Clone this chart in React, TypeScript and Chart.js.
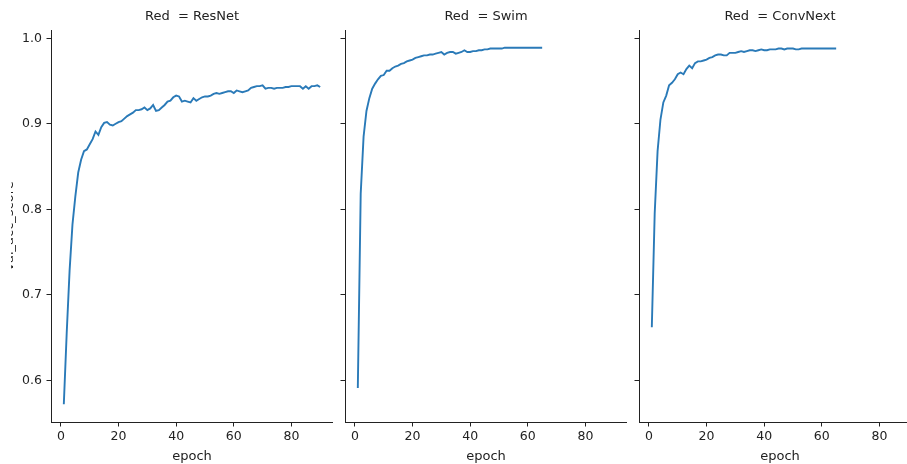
import React, { useEffect, useRef } from "react";
import { Chart, registerables } from "chart.js";

Chart.register(...registerables);

// ---------- data ----------
const panelTitles = ["Red  = ResNet", "Red  = Swim", "Red  = ConvNext"];
const xLabel = "epoch";
const yLabel = "val_acc_score";
const xTicks = [0, 20, 40, 60, 80];
const yTicks = [0.6, 0.7, 0.8, 0.9, 1.0];

const resnetAcc = [
  0.572, 0.655, 0.728, 0.782, 0.815, 0.843, 0.858, 0.868, 0.870, 0.876,
  0.882, 0.891, 0.887, 0.896, 0.901, 0.902, 0.899, 0.898, 0.900, 0.902,
  0.903, 0.906, 0.909, 0.911, 0.913, 0.916, 0.916, 0.917, 0.919, 0.916,
  0.918, 0.922, 0.915, 0.916, 0.919, 0.922, 0.926, 0.927, 0.931, 0.933,
  0.932, 0.926, 0.927, 0.926, 0.925, 0.930, 0.927, 0.929, 0.931, 0.932,
  0.932, 0.933, 0.935, 0.936, 0.935, 0.936, 0.937, 0.938, 0.938, 0.936,
  0.939, 0.938, 0.937, 0.938, 0.939, 0.942, 0.943, 0.944, 0.944, 0.945,
  0.941, 0.942, 0.942, 0.941, 0.942, 0.942, 0.942, 0.943, 0.943, 0.944,
  0.944, 0.944, 0.944, 0.941, 0.944, 0.941, 0.944, 0.944, 0.945, 0.943,
];

const swimAcc = [
  0.591, 0.818, 0.885, 0.915, 0.930, 0.941, 0.947, 0.952, 0.956, 0.957,
  0.962, 0.962, 0.965, 0.967, 0.968, 0.970, 0.971, 0.973, 0.974, 0.975,
  0.977, 0.978, 0.979, 0.980, 0.980, 0.981, 0.981, 0.982, 0.983, 0.984,
  0.981, 0.983, 0.984, 0.984, 0.982, 0.983, 0.984, 0.986, 0.984, 0.984,
  0.985, 0.985, 0.986, 0.986, 0.987, 0.987, 0.988, 0.988, 0.988, 0.988,
  0.988, 0.989, 0.989, 0.989, 0.989, 0.989, 0.989, 0.989, 0.989, 0.989,
  0.989, 0.989, 0.989, 0.989, 0.989,
];

const convnextAcc = [
  0.662, 0.795, 0.868, 0.905, 0.925, 0.933, 0.945, 0.948, 0.952, 0.958,
  0.960, 0.958, 0.964, 0.968, 0.965, 0.971, 0.973, 0.973, 0.974, 0.975,
  0.977, 0.978, 0.980, 0.981, 0.981, 0.980, 0.980, 0.983, 0.983, 0.983,
  0.984, 0.985, 0.984, 0.985, 0.986, 0.986, 0.985, 0.986, 0.987, 0.986,
  0.986, 0.987, 0.987, 0.987, 0.988, 0.988, 0.987, 0.988, 0.988, 0.988,
  0.987, 0.987, 0.988, 0.988, 0.988, 0.988, 0.988, 0.988, 0.988, 0.988,
  0.988, 0.988, 0.988, 0.988, 0.988,
];

const seriesList = [resnetAcc, swimAcc, convnextAcc];

// ---------- style / layout ----------
const FONT = '"DejaVu Sans", sans-serif';
const TEXT = "#222222";
const SPINE = "#222222";
const LINE = "#2a7ab8";
const CANVAS_H = 464;
const PANEL_W = 282;
const PLOT_TOP = 30;
const XAXIS_H = 42;
const panelLefts = [51, 345, 639];
const yAxisW = [51, 10, 10];
const X_MIN = -3.45;
const X_MAX = 94.45;
const Y_MIN = 0.5512;
const Y_MAX = 1.0097;

function makeFacetPlugin(title: string, drawYLabel: boolean) {
  return {
    id: "facetDecor",
    afterDraw(chart: any) {
      const { ctx, chartArea } = chart;
      ctx.save();
      ctx.fillStyle = TEXT;
      ctx.font = `13px ${FONT}`;
      ctx.textAlign = "center";
      ctx.textBaseline = "middle";
      ctx.fillText(title, (chartArea.left + chartArea.right) / 2, 17);
      if (drawYLabel) {
        ctx.beginPath();
        ctx.rect(11, 0, 20, chart.height);
        ctx.clip();
        ctx.translate(13, (chartArea.top + chartArea.bottom) / 2);
        ctx.rotate(-Math.PI / 2);
        ctx.textAlign = "center";
        ctx.textBaseline = "alphabetic";
        ctx.fillText(yLabel, 0, 0);
      }
      ctx.restore();
    },
  };
}

function Panel({ idx }: { idx: number }) {
  const ref = useRef<HTMLCanvasElement>(null);
  const yw = yAxisW[idx];
  const w = yw + PANEL_W;
  const left = panelLefts[idx] - yw;

  useEffect(() => {
    const values = seriesList[idx];
    const points = values.map((v, i) => ({ x: i + 1, y: v }));
    const showY = idx === 0;
    const chart = new Chart(ref.current as HTMLCanvasElement, {
      type: "line",
      data: {
        datasets: [
          {
            data: points,
            borderColor: LINE,
            backgroundColor: LINE,
            borderWidth: 1.9,
            pointRadius: 0,
            tension: 0,
            fill: false,
          },
        ],
      },
      options: {
        animation: false,
        responsive: false,
        devicePixelRatio: 1,
        layout: { padding: { top: PLOT_TOP, left: 0, right: 0, bottom: 0 } },
        plugins: {
          legend: { display: false },
          tooltip: { enabled: false },
          title: { display: false },
        },
        scales: {
          x: {
            type: "linear",
            min: X_MIN,
            max: X_MAX,
            afterBuildTicks: (s: any) => {
              s.ticks = xTicks.map((v) => ({ value: v }));
            },
            afterFit: (s: any) => {
              s.height = XAXIS_H;
            },
            ticks: {
              color: TEXT,
              font: { family: FONT, size: 12.5 },
              padding: 3,
              maxRotation: 0,
              autoSkip: false,
              callback: (v: any) => String(v),
            },
            grid: {
              display: true,
              drawOnChartArea: false,
              drawTicks: true,
              tickLength: 4.5,
              tickColor: SPINE,
              tickWidth: 1,
            },
            border: { display: true, color: SPINE, width: 1 },
            title: {
              display: true,
              text: xLabel,
              color: TEXT,
              font: { family: FONT, size: 13 },
              padding: { top: 0, bottom: 0 },
            },
          },
          y: {
            type: "linear",
            min: Y_MIN,
            max: Y_MAX,
            afterBuildTicks: (s: any) => {
              s.ticks = yTicks.map((v) => ({ value: v }));
            },
            afterFit: (s: any) => {
              s.width = yw;
            },
            ticks: {
              color: TEXT,
              font: { family: FONT, size: 12.5 },
              padding: 4.5,
              autoSkip: false,
              callback: (v: any) => (showY ? Number(v).toFixed(1) : ""),
            },
            grid: {
              display: true,
              drawOnChartArea: false,
              drawTicks: true,
              tickLength: 4.5,
              tickColor: SPINE,
              tickWidth: 1,
            },
            border: { display: true, color: SPINE, width: 1 },
          },
        },
      },
      plugins: [makeFacetPlugin(panelTitles[idx], showY)],
    } as any);
    return () => chart.destroy();
  }, [idx]);

  return (
    <canvas
      ref={ref}
      width={w}
      height={CANVAS_H}
      style={{ position: "absolute", left, top: 0, width: w, height: CANVAS_H }}
    />
  );
}

export default function App() {
  return (
    <div
      style={{
        position: "fixed",
        left: 0,
        top: 0,
        width: 907,
        height: CANVAS_H,
        overflow: "hidden",
        background: "#ffffff",
      }}
    >
      {panelTitles.map((_, i) => (
        <Panel key={i} idx={i} />
      ))}
    </div>
  );
}
